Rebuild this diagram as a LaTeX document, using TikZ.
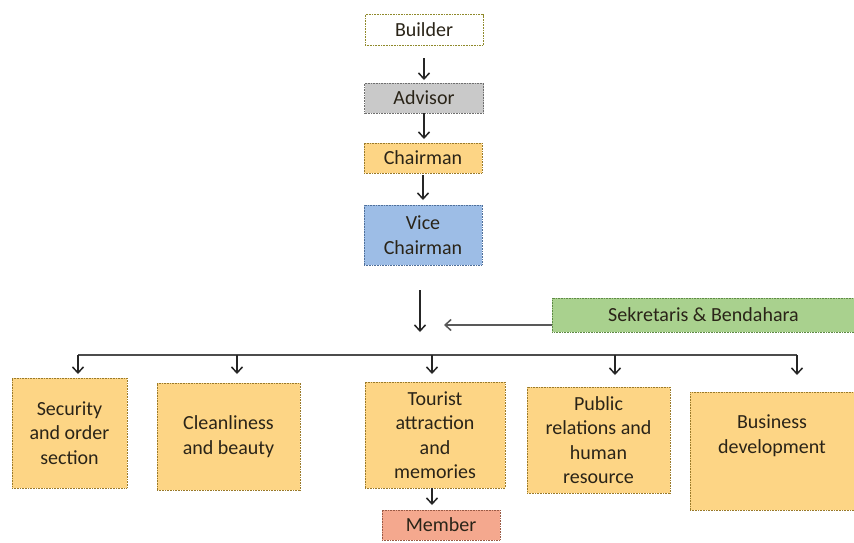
\documentclass[tikz,border=0pt]{standalone}
\usepackage{fontspec}
\setmainfont{Carlito}
\usetikzlibrary{arrows.meta}
\definecolor{orangebox}{HTML}{FDD585}
\definecolor{orangeedge}{HTML}{9A7A2A}
\definecolor{graybox}{HTML}{C9C9C9}
\definecolor{grayedge}{HTML}{6E6E6E}
\definecolor{bluebox}{HTML}{9DBDE6}
\definecolor{blueedge}{HTML}{4F6F9A}
\definecolor{greenbox}{HTML}{A9D18E}
\definecolor{greenedge}{HTML}{5E8A45}
\definecolor{redbox}{HTML}{F4A88E}
\definecolor{rededge}{HTML}{9A5A45}
\definecolor{txt}{HTML}{2A2418}
\tikzset{
  orgbox/.style={draw, line width=0.9pt, dash pattern=on 0.8pt off 0.8pt, align=center,
    text=txt, inner sep=2pt, font=\fontsize{20}{24.5}\selectfont},
  arr/.style={-{Straight Barb[length=6pt,width=11pt]}, line width=1.5pt, draw=black!85},
  hline/.style={line width=1.8pt, draw=black!70},
}
\begin{document}
\begin{tikzpicture}[x=1pt,y=-1pt]
\useasboundingbox[fill=white] (0,0) rectangle (854,542);
% top chain
\node[orgbox, fill=white, draw=olive!70!gray, minimum width=118, minimum height=31] (builder) at (424,30) {Builder};
\node[orgbox, fill=graybox, draw=grayedge, minimum width=119, minimum height=30] (advisor) at (424,98) {Advisor};
\node[orgbox, fill=orangebox, draw=orangeedge, minimum width=118, minimum height=30] (chair) at (423,158) {Chairman};
\node[orgbox, fill=bluebox, draw=blueedge, minimum width=118, minimum height=60] (vice) at (423,235) {Vice\\Chairman};
\node[orgbox, fill=greenbox, draw=greenedge, minimum width=302, minimum height=34, anchor=west] (sek) at (552,315) {Sekretaris \& Bendahara};

\coordinate (a1s) at (424,58);  \coordinate (a1e) at (424,80);
\coordinate (a2s) at (424,113); \coordinate (a2e) at (424,139);
\coordinate (a3s) at (423,175); \coordinate (a3e) at (423,200);
\draw[arr] (a1s) -- (a1e);
\draw[arr] (a2s) -- (a2e);
\draw[arr] (a3s) -- (a3e);

\coordinate (vdtop) at (420,290);
\coordinate (vdbot) at (420,332);
\draw[arr] (vdtop) -- (vdbot);
\coordinate (sekarr) at (444,325);
\draw[arr, draw=black!65] (sek.west |- sekarr) -- (sekarr);

% branch line
\coordinate (hl) at (78,355);
\coordinate (hr) at (797,355);
\draw[hline] (hl) -- (hr);

% bottom boxes
\node[orgbox, fill=orangebox, draw=orangeedge, minimum width=115, minimum height=110] (sec) at (69.5,433) {Security\\and order\\section};
\node[orgbox, fill=orangebox, draw=orangeedge, minimum width=143, minimum height=107] (clean) at (228.5,436.5) {Cleanliness\\and beauty};
\node[orgbox, fill=orangebox, draw=orangeedge, minimum width=140, minimum height=106] (tour) at (435,435) {Tourist\\attraction\\and\\memories};
\node[orgbox, fill=orangebox, draw=orangeedge, minimum width=143, minimum height=106] (pub) at (598.5,440) {Public\\relations and\\human\\resource};
\node[orgbox, fill=orangebox, draw=orangeedge, minimum width=164, minimum height=118] (bus) at (772,451) {Business\\development\\[2pt]\strut};
\node[orgbox, fill=redbox, draw=rededge, minimum width=118, minimum height=30] (mem) at (441,525) {Member};

\coordinate (b1) at (78,374);
\coordinate (b2s) at (237,355);  \coordinate (b2) at (237,374);
\coordinate (b3s) at (432,355);  \coordinate (b3) at (432,374);
\coordinate (b4s) at (615,355);  \coordinate (b4) at (615,375);
\coordinate (b5) at (797,375);
\draw[arr] (hl) -- (b1);
\draw[arr] (b2s) -- (b2);
\draw[arr] (b3s) -- (b3);
\draw[arr] (b4s) -- (b4);
\draw[arr] (hr) -- (b5);
\coordinate (m1) at (432,488); \coordinate (m2) at (432,505);
\draw[arr] (m1) -- (m2);
\end{tikzpicture}
\end{document}
